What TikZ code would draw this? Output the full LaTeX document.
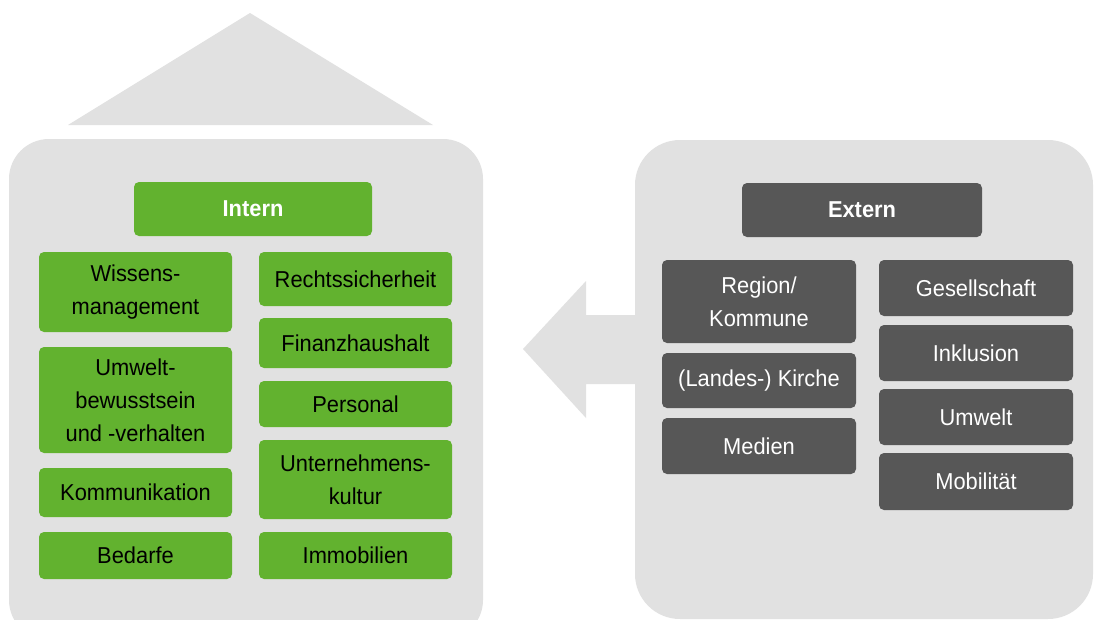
\documentclass[tikz,border=0pt]{standalone}
\usepackage{fontspec}
\setmainfont{Liberation Sans}[FakeStretch=0.95]
\definecolor{hausgrau}{HTML}{E1E1E1}
\definecolor{gruen}{HTML}{62B22F}
\definecolor{dunkel}{HTML}{575757}
\begin{document}
\begin{tikzpicture}[x=1pt,y=-1pt,
  feld/.style={rounded corners=5pt,minimum height=#1,inner sep=0pt,align=center,font=\fontsize{23}{33}\selectfont},
  innen/.style={feld=#1,fill=gruen,minimum width=193pt,text=black},
  aussen/.style={feld=#1,fill=dunkel,minimum width=194pt,text=white},
  kopf/.style={feld=54pt,minimum width=#1,text=white,font=\fontsize{23}{33}\selectfont\bfseries}]
\useasboundingbox(0,0)rectangle(1095,619);
\clip(0,0)rectangle(1095,619);
\fill[white](0,0)rectangle(1095,619);
\fill[hausgrau](68,125)--(250,13)--(433,125)--cycle;
\fill[hausgrau,rounded corners=40pt](9,139)rectangle(483,640);
\fill[hausgrau,rounded corners=45pt](635,140)rectangle(1093,619);
\fill[hausgrau](523,349)--(586,281)--(586,315)--(640,315)--(640,384)--(586,384)--(586,418)--cycle;
\node[kopf=238pt,fill=gruen](intern)at(253,209){Intern};
\node[innen=80pt](wissen)at(135.5,292){Wissens-\\management};
\node[innen=106pt](umwelt)at(135.5,400){Umwelt-\\bewusstsein\\und -verhalten};
\node[innen=49pt](kommunikation)at(135.5,492.5){Kommunikation};
\node[innen=47pt](bedarfe)at(135.5,555.5){Bedarfe};
\node[innen=54pt](recht)at(355.5,279){Rechtssicherheit};
\node[innen=50pt](finanz)at(355.5,343){Finanzhaushalt};
\node[innen=46pt](personal)at(355.5,404){Personal};
\node[innen=79pt](kultur)at(355.5,479.5){Unternehmens-\\kultur};
\node[innen=47pt](immo)at(355.5,555.5){Immobilien};
\node[kopf=240pt,fill=dunkel](extern)at(862,210){Extern};
\node[aussen=83pt](region)at(759,301.5){Region/\\Kommune};
\node[aussen=55pt](kirche)at(759,380.5){(Landes-) Kirche};
\node[aussen=56pt](medien)at(759,446){Medien};
\node[aussen=56pt](gesell)at(976,288){Gesellschaft};
\node[aussen=56pt](inklusion)at(976,353){Inklusion};
\node[aussen=56pt](umweltext)at(976,417){Umwelt};
\node[aussen=57pt](mobil)at(976,481.5){Mobilität};
\end{tikzpicture}
\end{document}
